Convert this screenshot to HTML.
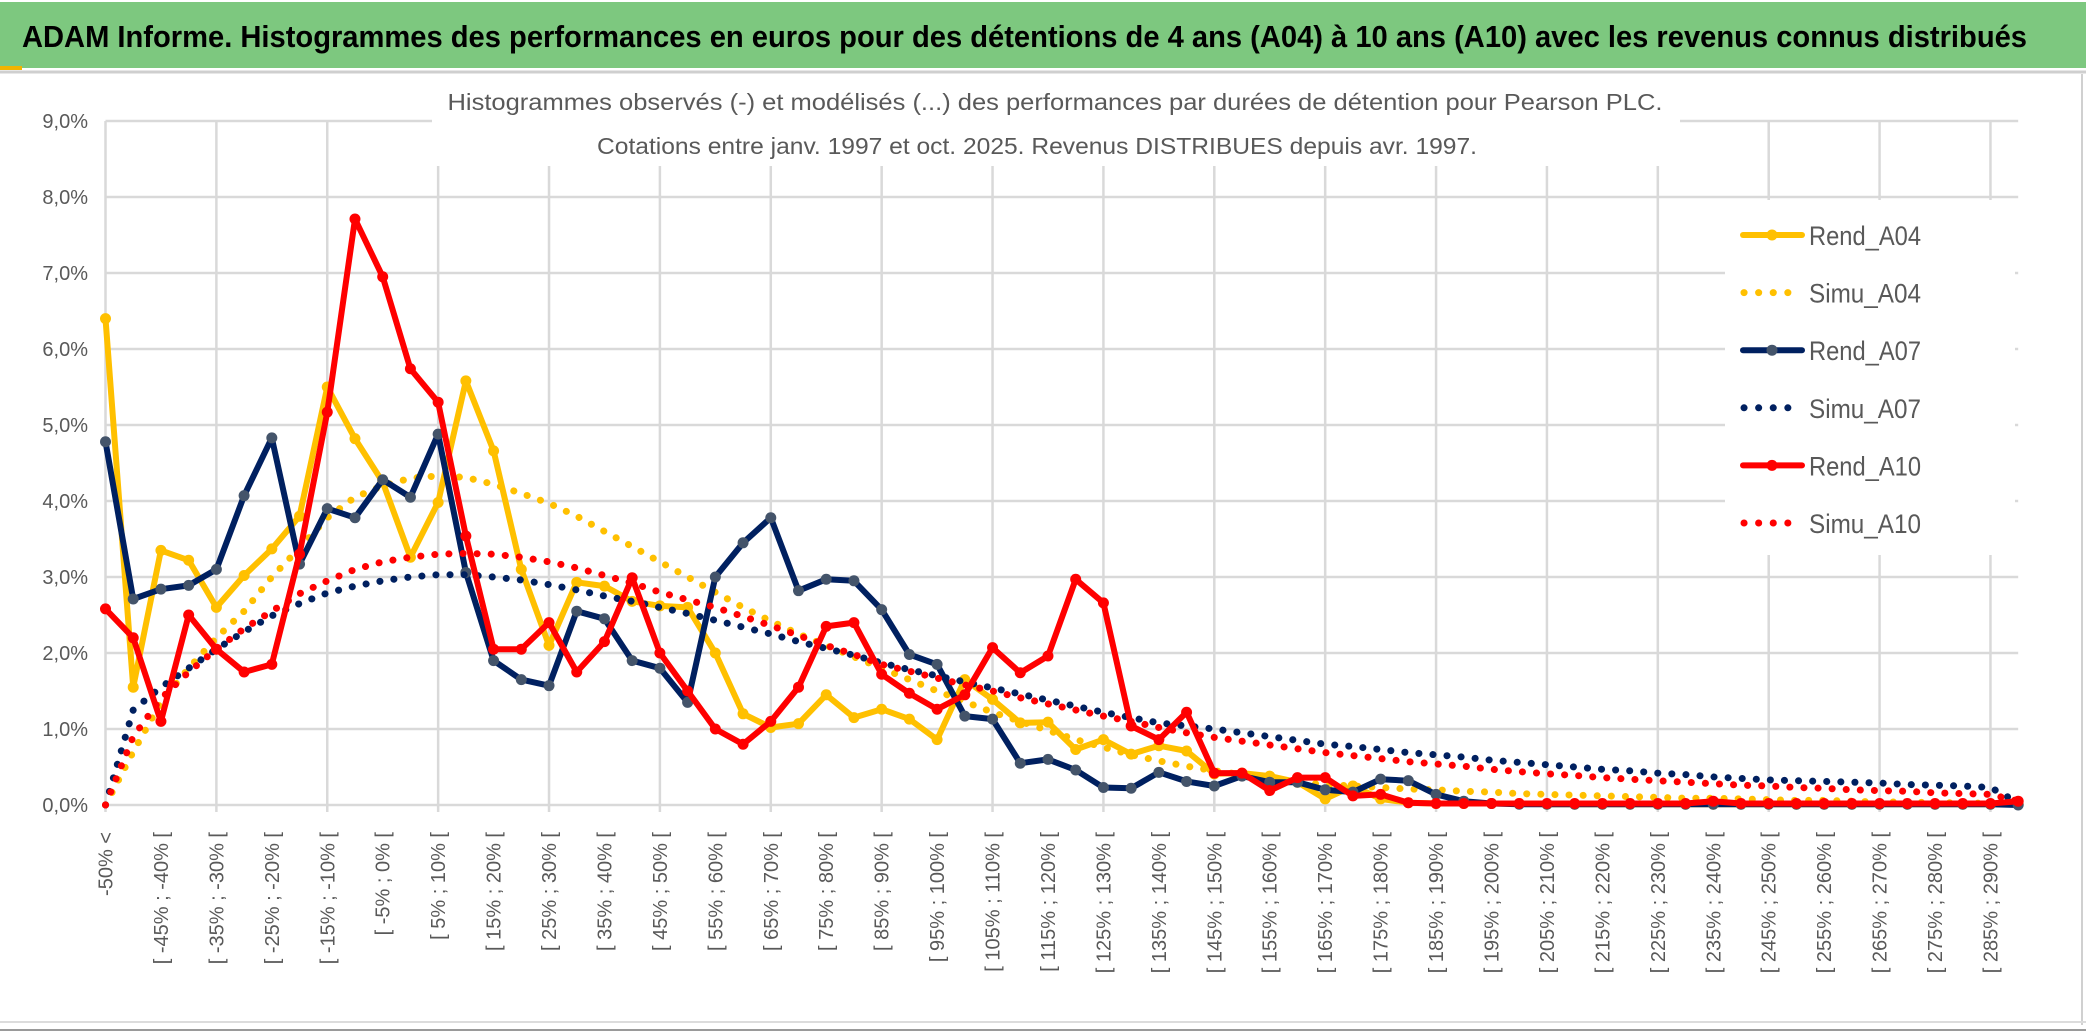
<!DOCTYPE html>
<html><head><meta charset="utf-8"><style>
html,body{margin:0;padding:0;background:#fff;}
svg{display:block;font-family:"Liberation Sans",sans-serif;}
</style></head><body>
<svg id="chart" width="2086" height="1033" viewBox="0 0 2086 1033" xmlns="http://www.w3.org/2000/svg">
<rect x="0" y="0" width="2086" height="1033" fill="#fff"/>
<rect x="0" y="2" width="2086" height="66" fill="#7dc87f"/>
<rect x="0" y="66" width="22" height="4" fill="#f2b400"/>
<line x1="0" y1="72" x2="2086" y2="72" stroke="#cfcfcf" stroke-width="3"/>
<text x="22" y="47" font-size="31" font-weight="bold" fill="#000" textLength="2005" lengthAdjust="spacingAndGlyphs">ADAM Informe. Histogrammes des performances en euros pour des détentions de 4 ans (A04) à 10 ans (A10) avec les revenus connus distribués</text>
<line x1="2082" y1="74" x2="2082" y2="1025" stroke="#d0d0d0" stroke-width="2"/>
<line x1="0" y1="1022" x2="2086" y2="1022" stroke="#dcdcdc" stroke-width="2"/>
<line x1="0" y1="1030" x2="2086" y2="1030" stroke="#9a9a9a" stroke-width="2"/>
<g id="grid"></g><g id="axes"></g><g id="series"></g><g id="legend"></g>
<rect x="432" y="78" width="1248" height="88" fill="#fff"/>
<text x="1055" y="110" font-size="23" fill="#595959" text-anchor="middle" textLength="1215" lengthAdjust="spacingAndGlyphs">Histogrammes observés (-) et modélisés (...) des performances par durées de détention pour Pearson PLC.</text>
<text x="1037" y="154" font-size="23" fill="#595959" text-anchor="middle" textLength="880" lengthAdjust="spacingAndGlyphs">Cotations entre janv. 1997 et oct. 2025. Revenus DISTRIBUES depuis avr. 1997.</text>
</svg>
<script>
const categoriesCount = 70;
const yTicks = [0,1,2,3,4,5,6,7,8,9];
const rendA04 = [6.4,1.55,3.35,3.22,2.6,3.02,3.37,3.8,5.5,4.82,4.25,3.26,3.98,5.58,4.66,3.1,2.1,2.93,2.88,2.68,2.62,2.6,2.0,1.2,1.02,1.07,1.45,1.15,1.26,1.13,0.86,1.65,1.39,1.08,1.09,0.73,0.86,0.67,0.78,0.71,0.41,0.42,0.38,0.3,0.08,0.25,0.08,0.03,0.02,0.02,0.02,0.02,0.01,0.01,0.01,0.01,0.01,0.01,0.01,0.01,0.01,0.01,0.01,0.01,0.01,0.01,0.01,0.01,0.01,0.01];
const simuA04 = [0,0.7,1.35,1.8,2.2,2.55,3.0,3.38,3.78,4.05,4.2,4.3,4.33,4.31,4.22,4.1,3.97,3.8,3.6,3.4,3.2,3.0,2.8,2.6,2.42,2.25,2.1,1.95,1.8,1.65,1.5,1.36,1.22,1.1,0.98,0.86,0.76,0.66,0.58,0.51,0.45,0.4,0.35,0.3,0.27,0.25,0.23,0.21,0.2,0.18,0.17,0.15,0.14,0.13,0.12,0.11,0.1,0.09,0.09,0.08,0.07,0.06,0.06,0.05,0.04,0.04,0.03,0.03,0.02,0.01];
const rendA07 = [4.78,2.71,2.84,2.89,3.1,4.07,4.83,3.17,3.9,3.78,4.28,4.05,4.88,3.06,1.9,1.65,1.57,2.55,2.45,1.9,1.8,1.35,3.0,3.45,3.78,2.82,2.97,2.95,2.57,1.98,1.85,1.17,1.13,0.55,0.6,0.46,0.23,0.22,0.43,0.31,0.25,0.38,0.3,0.3,0.2,0.17,0.34,0.32,0.14,0.05,0.02,0.01,0.01,0.01,0.01,0.01,0.01,0.01,0.01,0.01,0.01,0.01,0.01,0.01,0.01,0.01,0.01,0.01,0.01,0.0];
const simuA07 = [0,1.25,1.55,1.8,2.05,2.28,2.49,2.65,2.79,2.88,2.95,3.0,3.03,3.03,3.0,2.96,2.9,2.83,2.75,2.68,2.6,2.52,2.43,2.34,2.25,2.15,2.06,1.97,1.87,1.78,1.7,1.62,1.54,1.46,1.38,1.3,1.22,1.15,1.08,1.04,1.0,0.95,0.9,0.85,0.8,0.77,0.73,0.69,0.66,0.63,0.59,0.56,0.53,0.5,0.47,0.45,0.42,0.4,0.37,0.35,0.33,0.32,0.31,0.3,0.29,0.27,0.26,0.25,0.23,0.03];
const rendA10 = [2.58,2.2,1.1,2.5,2.05,1.75,1.85,3.3,5.17,7.71,6.95,5.74,5.3,3.54,2.05,2.05,2.4,1.75,2.15,2.99,2.0,1.5,1.0,0.8,1.1,1.55,2.35,2.4,1.72,1.47,1.26,1.45,2.07,1.74,1.96,2.97,2.66,1.04,0.86,1.22,0.42,0.42,0.19,0.36,0.36,0.12,0.14,0.03,0.02,0.02,0.02,0.02,0.02,0.02,0.02,0.02,0.02,0.02,0.05,0.02,0.02,0.02,0.02,0.02,0.02,0.02,0.02,0.02,0.02,0.05];
const simuA10 = [0,0.9,1.4,1.75,2.05,2.32,2.55,2.78,2.95,3.1,3.2,3.26,3.3,3.31,3.3,3.26,3.2,3.12,3.02,2.92,2.8,2.7,2.6,2.48,2.36,2.23,2.1,1.98,1.85,1.76,1.67,1.58,1.5,1.41,1.33,1.25,1.17,1.1,1.02,0.95,0.89,0.84,0.79,0.74,0.69,0.65,0.61,0.57,0.54,0.51,0.47,0.44,0.41,0.39,0.36,0.34,0.32,0.3,0.28,0.26,0.25,0.23,0.22,0.2,0.19,0.18,0.16,0.15,0.14,0.05];

const NS = "http://www.w3.org/2000/svg";
const X0 = 105.5, STEP = 27.72, Y0 = 805, PER = 76;
function xPos(i){ return X0 + i*STEP; }
function yPos(v){ return Y0 - v*PER; }
function mk(tag, attrs, parent){ const e=document.createElementNS(NS,tag); for(const k in attrs) e.setAttribute(k,attrs[k]); parent.appendChild(e); return e; }
function catLabel(i){ if(i===0) return "-50% <"; const a=-50+5*(i-1); return "[ "+a+"% ; "+(a+5)+"% ["; }

const grid=document.getElementById('grid'), axes=document.getElementById('axes'), series=document.getElementById('series'), legend=document.getElementById('legend');
const xEnd = xPos(categoriesCount-1);
yTicks.forEach(t=>{
  const l=mk('line',{x1:X0,x2:xEnd,y1:yPos(t),y2:yPos(t),stroke:'#d9d9d9','stroke-width':2.5},grid);
  
  
  const tx=mk('text',{x:88,y:yPos(t)+7,'font-size':20,fill:'#595959','text-anchor':'end'},axes);
  tx.textContent=t.toFixed(1).replace('.',',')+'%';
  
  
});
for(let i=0;i<categoriesCount;i+=4){
  const l=mk('line',{x1:xPos(i),x2:xPos(i),y1:yPos(9),y2:Y0+7,stroke:'#d9d9d9','stroke-width':2.5},grid);
  
  
}
for(let i=0;i<categoriesCount;i+=2){
  const x=xPos(i)+7, y=832;
  const tx=mk('text',{x:x,y:y,'font-size':20,fill:'#595959','text-anchor':'end',transform:'rotate(-90 '+x+' '+y+')'},axes);
  tx.textContent=catLabel(i);
  
  
}
function pts(arr){ return arr.map((v,i)=>xPos(i).toFixed(1)+','+yPos(v).toFixed(1)).join(' '); }
function solid(arr,color,mcolor,name){
  const g=mk('g',{},series);
  
  
  mk('polyline',{points:pts(arr),fill:'none',stroke:color,'stroke-width':6,'stroke-linejoin':'round'},g);
  arr.forEach((v,i)=>{
    const c=mk('circle',{cx:xPos(i),cy:yPos(v),r:5.5,fill:mcolor},g);
    
    
  });
}
function dotted(arr,color,name){
  const p=mk('polyline',{points:pts(arr),fill:'none',stroke:color,'stroke-width':7,'stroke-linecap':'round','stroke-dasharray':'0.1 14'},series);
  
  
}
solid(rendA04,'#ffc000','#ffc000','rend-a04-line');
dotted(simuA04,'#ffc000','simu-a04-line');
solid(rendA07,'#002060','#44546a','rend-a07-line');
dotted(simuA07,'#002060','simu-a07-line');
solid(rendA10,'#ff0000','#ff0000','rend-a10-line');
dotted(simuA10,'#ff0000','simu-a10-line');

const lg=[['Rend_A04','#ffc000','#ffc000',true],['Simu_A04','#ffc000','',false],['Rend_A07','#002060','#44546a',true],['Simu_A07','#002060','',false],['Rend_A10','#ff0000','#ff0000',true],['Simu_A10','#ff0000','',false]];
mk('rect',{x:1725,y:200,width:290,height:355,fill:'#fff'},legend);
lg.forEach((e,k)=>{
  const y=235+k*57.6;
  const g=mk('g',{},legend);
  
  
  if(e[3]){
    mk('line',{x1:1743,x2:1802,y1:y,y2:y,stroke:e[1],'stroke-width':6,'stroke-linecap':'round'},g);
    mk('circle',{cx:1772,cy:y,r:5.5,fill:e[2]},g);
  } else {
    mk('line',{x1:1744,x2:1800,y1:y,y2:y,stroke:e[1],'stroke-width':7,'stroke-linecap':'round','stroke-dasharray':'0.1 14.5'},g);
  }
  const t=mk('text',{x:1809,y:y+10,'font-size':27,fill:'#595959',textLength:'112',lengthAdjust:'spacingAndGlyphs'},g);
  t.textContent=e[0];
});
</script>
</body></html>
